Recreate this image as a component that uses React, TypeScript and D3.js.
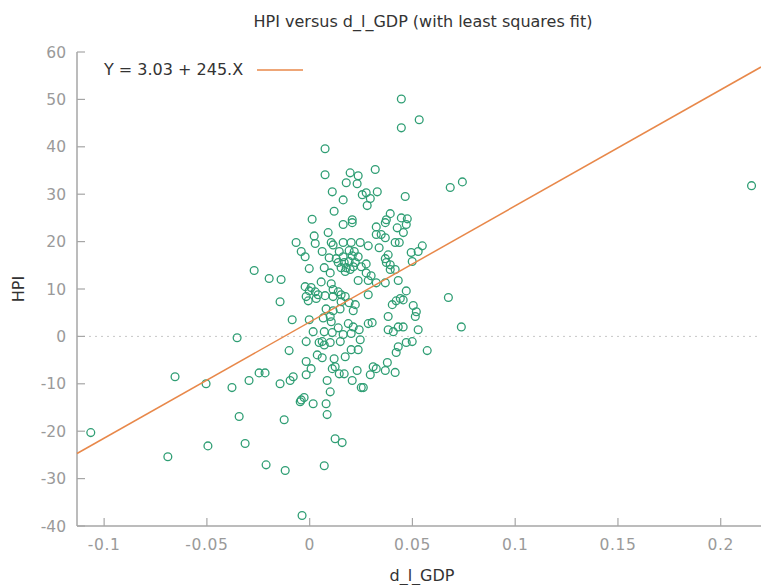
import React from "react";
import * as d3 from "d3";

const gdp = [
  0.0075, 0.0075, 0.0197, 0.0236, 0.0178, 0.0231, 0.011, 0.0163, 0.0119, 0.0012,
  0.0207, 0.0256, 0.0446, 0.0446, 0.0533, 0.0319, 0.0684, 0.0743, 0.0275, 0.0329,
  0.0295, 0.028, 0.0465, 0.0392, 0.0446, 0.0475, 0.0373, 0.215, 0.0324, 0.0368,
  0.0426, 0.047, 0.0324, 0.0348, 0.0368, 0.0456, 0.0285, 0.0338, 0.0416, 0.0436,
  0.0382, 0.0494, 0.0528, 0.0548, 0.0275, 0.0368, 0.0373, 0.0392, 0.0499, 0.0392,
  0.0416, 0.0275, 0.0299, 0.0285, 0.0324, 0.0368, 0.0431, 0.0285, 0.047, 0.0402,
  0.0421, 0.0441, 0.0455, 0.0504, 0.0519, 0.0675, 0.0382, 0.0514, 0.0285, 0.0304,
  0.0382, 0.0407, 0.0431, 0.0455, 0.0528, 0.0738, 0.047, 0.0499, 0.0431, 0.0421,
  0.0572, 0.0309, 0.0324, 0.0295, 0.0368, 0.0378, 0.0416, 0.0261, 0.0163, 0.0207,
  0.0022, 0.009, -0.0066, 0.0027, 0.0105, 0.0114, 0.0163, 0.0202, 0.0246, -0.0041,
  0.0061, 0.0144, 0.0192, 0.0217, -0.0022, 0.0095, 0.0129, 0.0163, 0.0207, 0.0236,
  0.0139, 0.0168, 0.0192, 0.0222, -0.0002, 0.0071, 0.0153, 0.0178, 0.0212, 0.0251,
  0.01, 0.0173, 0.0197, -0.0197, -0.0139, 0.0056, 0.0105, 0.0236, -0.0022, 0.0007,
  0.0114, 0.0139, -0.0002, 0.0027, 0.0041, -0.0017, 0.0075, 0.0114, 0.0153, 0.0173,
  -0.0144, -0.0007, 0.0032, 0.0153, 0.0192, 0.0222, 0.008, 0.0114, 0.0148, 0.0212,
  -0.0085, -0.0002, 0.0066, 0.01, 0.0105, 0.0188, 0.0212, 0.0241, 0.0017, 0.0071,
  0.011, 0.0139, 0.0163, 0.0202, -0.0017, 0.0061, 0.0149, 0.0246, -0.027, -0.0353,
  -0.0655, -0.0504, -0.0378, -0.0295, -0.0246, -0.0217, -0.0144, -0.0095, -0.008, -0.01,
  -0.0017, 0.0007, -0.0017, 0.0037, 0.0061, 0.0046, 0.0071, 0.01, 0.0119, 0.0173,
  0.011, 0.0124, 0.0144, 0.0168, 0.0202, 0.0236, 0.0231, 0.0207, 0.0251, 0.0085,
  0.01, -0.0041, -0.0027, -0.0046, 0.0017, 0.008, 0.0085, -0.0343, -0.0124, -0.0495,
  -0.0314, 0.0124, 0.0158, -0.1065, -0.069, -0.0212, -0.0119, -0.0037, 0.0071,
];

const hpi = [
  39.6, 34.1, 34.5, 33.9, 32.4, 32.2, 30.5, 28.8, 26.4, 24.7,
  24.6, 29.9, 50.1, 44.0, 45.7, 35.2, 31.4, 32.6, 30.3, 30.5,
  29.1, 27.6, 29.5, 25.9, 25.0, 24.8, 24.6, 31.8, 23.1, 24.0,
  22.9, 23.6, 21.5, 21.5, 20.8, 21.9, 19.1, 18.7, 19.8, 19.8,
  17.2, 17.7, 17.9, 19.1, 15.3, 16.4, 15.6, 15.1, 15.8, 14.1,
  14.1, 13.4, 12.8, 11.8, 11.3, 11.3, 11.8, 8.8, 9.6, 6.7,
  7.5, 8.0, 7.7, 6.5, 5.2, 8.2, 4.2, 4.2, 2.7, 2.9,
  1.4, 1.0, 2.0, 2.0, 1.4, 2.0, -1.3, -1.1, -2.2, -3.4,
  -3.0, -6.4, -6.8, -8.1, -7.2, -5.5, -7.6, -10.8, 23.6, 24.0,
  21.2, 21.9, 19.8, 19.6, 19.8, 19.3, 19.8, 19.8, 19.8, 17.9,
  17.9, 17.9, 18.1, 17.9, 16.8, 16.6, 16.4, 16.8, 17.0, 16.8,
  15.6, 15.6, 15.8, 15.6, 14.3, 14.5, 14.5, 14.5, 14.7, 14.7,
  13.4, 13.7, 14.1, 12.2, 12.0, 11.5, 11.1, 11.8, 10.5, 10.3,
  9.9, 9.4, 9.6, 9.4, 8.8, 8.4, 8.6, 8.4, 8.8, 8.4,
  7.3, 7.5, 8.0, 7.3, 7.1, 6.7, 5.8, 5.4, 5.8, 5.4,
  3.5, 3.5, 3.9, 4.2, 3.1, 2.7, 2.0, 1.4, 1.0, 1.0,
  0.8, 1.8, 0.4, 0.6, -1.1, -1.1, -1.1, -0.7, 13.9, -0.3,
  -8.5, -10.0, -10.8, -9.3, -7.7, -7.7, -10.0, -9.3, -8.5, -3.0,
  -5.3, -6.8, -8.1, -3.9, -4.5, -1.3, -1.8, -1.3, -4.7, -4.3,
  -6.8, -6.4, -7.9, -7.9, -2.8, -2.8, -7.2, -9.3, -10.8, -9.3,
  -11.7, -13.4, -12.9, -13.8, -14.2, -14.2, -16.5, -16.9, -17.6, -23.1,
  -22.6, -21.6, -22.4, -20.3, -25.4, -27.1, -28.3, -37.8, -27.3,
];

const fitIntercept = 3.03;
const fitSlope = 245;
const xTicks = [-0.1, -0.05, 0, 0.05, 0.1, 0.15, 0.2];
const xTickLabels = ["-0.1", "-0.05", "0", "0.05", "0.1", "0.15", "0.2"];
const yTicks = [-40, -30, -20, -10, 0, 10, 20, 30, 40, 50, 60];
const yTickLabels = ["-40", "-30", "-20", "-10", "0", "10", "20", "30", "40", "50", "60"];
const title = "HPI versus d_l_GDP (with least squares fit)";
const legendLabel = "Y = 3.03 + 245.X";

const W = 761;
const H = 585;
const left = 77;
const right = 761;
const top = 52;
const bottom = 526;

const FONT = "'DejaVu Sans', Verdana, sans-serif";
const axisColor = "#a6a6a6";
const tickText = "#9a9a9a";
const pointColor = "#2f9e74";
const lineColor = "#e8884a";

export default function App() {
  const x = d3.scaleLinear().domain([-0.1132, 0.2196]).range([left, right]);
  const y = d3.scaleLinear().domain([-40, 60]).range([bottom, top]);
  const [x0, x1] = x.domain();
  const fitLine = d3.line<number>()
    .x((d) => x(d))
    .y((d) => y(fitIntercept + fitSlope * d));
  const pts = gdp.map((g, i) => [g, hpi[i]] as [number, number]);

  return (
    <svg width={W} height={H} style={{ position: "absolute", left: 0, top: 0, background: "#fff" }}>
      <rect x={0} y={0} width={W} height={H} fill="#fff" />
      <text x={423} y={27} textAnchor="middle" fontFamily={FONT} fontSize={16} fill="#333">
        {title}
      </text>
      {/* zero line */}
      <line x1={left} x2={right} y1={y(0)} y2={y(0)} stroke="#c8c8c8" strokeWidth={1} strokeDasharray="2,4" />
      {/* axes */}
      <line x1={left} x2={left} y1={top} y2={bottom} stroke={axisColor} strokeWidth={1.5} />
      <line x1={left} x2={right} y1={bottom} y2={bottom} stroke={axisColor} strokeWidth={1.5} />
      {yTicks.map((t, i) => (
        <g key={"yt" + t}>
          <line x1={left} x2={left + 8} y1={y(t)} y2={y(t)} stroke={axisColor} strokeWidth={1.2} />
          <text x={66} y={y(t)} dy="0.36em" textAnchor="end" fontFamily={FONT} fontSize={15.5} fill={tickText}>
            {yTickLabels[i]}
          </text>
        </g>
      ))}
      {xTicks.map((t, i) => (
        <g key={"xt" + t}>
          <line x1={x(t)} x2={x(t)} y1={bottom} y2={bottom - 8} stroke={axisColor} strokeWidth={1.2} />
          <text x={x(t)} y={550} textAnchor="middle" fontFamily={FONT} fontSize={15.5} fill={tickText} letterSpacing={0.6}>
            {xTickLabels[i]}
          </text>
        </g>
      ))}
      <text
        transform={`translate(24,${(top + bottom) / 2}) rotate(-90)`}
        textAnchor="middle"
        fontFamily={FONT}
        fontSize={16}
        fill="#333"
      >
        HPI
      </text>
      <text x={422} y={581} textAnchor="middle" fontFamily={FONT} fontSize={16} fill="#333">
        d_l_GDP
      </text>
      {/* points */}
      {pts.map((p, i) => (
        <circle key={i} cx={x(p[0])} cy={y(p[1])} r={3.9} fill="none" stroke={pointColor} strokeWidth={1.3} />
      ))}
      {/* fit line */}
      <path d={fitLine([x0, x1]) || ""} fill="none" stroke={lineColor} strokeWidth={1.5} />
      {/* legend */}
      <text x={104} y={75} fontFamily={FONT} fontSize={16} fill="#333">
        {legendLabel}
      </text>
      <line x1={257} x2={303} y1={70} y2={70} stroke={lineColor} strokeWidth={1.5} />
    </svg>
  );
}
